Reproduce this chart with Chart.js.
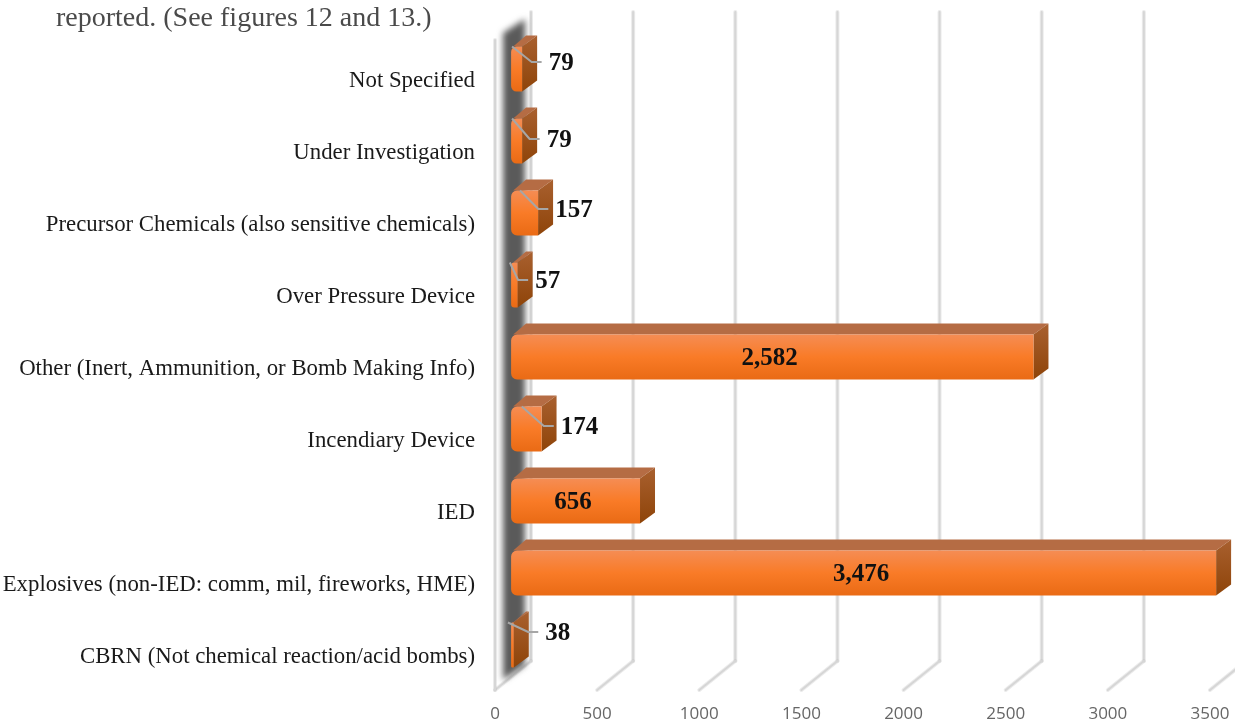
<!DOCTYPE html>
<html>
<head>
<meta charset="utf-8">
<title>Device categories</title>
<script src="https://cdn.jsdelivr.net/npm/chart.js@4/dist/chart.umd.min.js"></script>
<style>
  html, body { margin: 0; padding: 0; background: #fff; }
  canvas { display: block; }
</style>
</head>
<body>
<canvas id="chart" width="1235" height="725"></canvas>
<script>
const captionText = 'reported. (See figures 12 and 13.)'

const categories = [
  'Not Specified',
  'Under Investigation',
  'Precursor Chemicals (also sensitive chemicals)',
  'Over Pressure Device',
  'Other (Inert, Ammunition, or Bomb Making Info)',
  'Incendiary Device',
  'IED',
  'Explosives (non-IED: comm, mil, fireworks, HME)',
  'CBRN (Not chemical reaction/acid bombs)',
]
const incidents = [79, 79, 157, 57, 2582, 174, 656, 3476, 38]

const axisMax = 3500
const axisStep = 500

// fake 3D, all in pixels relative to the real scales
const barDepth = { x: 15, y: -11 }
const wallFront = -11
const wallBack = 25
const barBase = 25

// where the small labels sit, relative to bar end and bar middle
const calloutShift = {
  0: [39, -7],
  1: [37, -2],
  2: [36, -4],
  3: [30, -5],
  5: [38, -3],
  8: [44, -13],
}

const serif = '"Liberation Serif", serif'

const barGradient = (context) => {
  const { chart, dataIndex } = context
  const yScale = chart.scales.y
  const mid = yScale ? yScale.getPixelForValue(dataIndex) : NaN
  if (!Number.isFinite(mid)) return '#F97B27'
  const g = chart.ctx.createLinearGradient(0, mid - 23, 0, mid + 23)
  g.addColorStop(0, '#F58D55')
  g.addColorStop(0.5, '#F97B27')
  g.addColorStop(1, '#E96A14')
  return g
}

const polygon = (ctx, pts) => {
  ctx.beginPath()
  pts.forEach(([x, y], i) => (i ? ctx.lineTo(x, y) : ctx.moveTo(x, y)))
  ctx.closePath()
}

const softLine = (ctx, x1, y1, x2, y2) => {
  ctx.lineCap = 'round'
  ctx.strokeStyle = 'rgba(190, 190, 190, 0.3)'
  ctx.lineWidth = 4
  ctx.beginPath()
  ctx.moveTo(x1, y1)
  ctx.lineTo(x2, y2)
  ctx.stroke()
  ctx.strokeStyle = '#d6d6d6'
  ctx.lineWidth = 2
  ctx.stroke()
}

const walls = {
  id: 'walls',
  beforeDatasetsDraw(chart) {
    const { ctx, chartArea, scales } = chart
    const { top, bottom } = chartArea
    const zero = scales.x.getPixelForValue(0)

    ctx.save()
    ctx.font = `28px ${serif}`
    ctx.fillStyle = '#4a4a4a'
    ctx.textAlign = 'left'
    ctx.textBaseline = 'middle'
    ctx.fillText(captionText, 56, 19)

    // back wall and floor lines
    scales.x.ticks.forEach((tick) => {
      const x = scales.x.getPixelForValue(tick.value)
      softLine(ctx, x + wallBack, top - 21, x + wallBack, bottom - 20)
      softLine(ctx, x + wallBack, bottom - 20, x + wallFront, bottom + 9)
    })
    softLine(ctx, zero + wallFront, top + 7, zero + wallFront, bottom + 9)

    // dark band behind the bars
    ctx.filter = 'blur(3px)'
    ctx.fillStyle = '#5a5a5a'
    polygon(ctx, [
      [zero - 3, top],
      [zero + 19, top - 14],
      [zero + 19, bottom - 16],
      [zero - 3, bottom - 1],
    ])
    ctx.fill()
    ctx.filter = 'none'

    // top and right faces
    const bars = chart.getDatasetMeta(0).data
    bars.forEach((bar) => {
      const h = bar.height / 2
      const left = bar.base
      const right = bar.x
      const dx = barDepth.x
      const dy = barDepth.y

      ctx.fillStyle = '#B56C44'
      polygon(ctx, [
        [left + 2, bar.y - h],
        [left + dx, bar.y - h + dy],
        [right + dx, bar.y - h + dy],
        [right, bar.y - h],
      ])
      ctx.fill()

      const side = ctx.createLinearGradient(0, bar.y - h + dy, 0, bar.y + h)
      side.addColorStop(0, '#A9602F')
      side.addColorStop(1, '#8E4409')
      ctx.fillStyle = side
      polygon(ctx, [
        [right, bar.y - h],
        [right + dx, bar.y - h + dy],
        [right + dx, bar.y + h + dy],
        [right, bar.y + h],
      ])
      ctx.fill()
    })
    ctx.restore()
  },
  afterDatasetsDraw(chart) {
    const { ctx, scales } = chart
    const zero = scales.x.getPixelForValue(0)
    const bars = chart.getDatasetMeta(0).data

    ctx.save()
    ctx.font = `bold 25px ${serif}`
    ctx.fillStyle = '#111'
    ctx.textBaseline = 'middle'
    ctx.textAlign = 'center'

    incidents.forEach((value, i) => {
      const bar = bars[i]
      const text = value.toLocaleString('en-US')
      const shift = calloutShift[i]
      if (!shift) {
        ctx.fillText(text, (zero + bar.x) / 2, bar.y + 2)
        return
      }
      const labelX = bar.x + shift[0]
      const labelY = bar.y + shift[1]
      const end = labelX - ctx.measureText(text).width / 2 - 7
      ctx.strokeStyle = '#a6a6a6'
      ctx.lineWidth = 2
      ctx.lineJoin = 'round'
      ctx.beginPath()
      ctx.moveTo((zero + bar.x) / 2 - 2, bar.y - bar.height / 2)
      ctx.lineTo(end - 10, labelY)
      ctx.lineTo(end, labelY)
      ctx.stroke()
      ctx.fillText(text, labelX, labelY + 2)
    })
    ctx.restore()
  },
}

new Chart(document.getElementById('chart'), {
  type: 'bar',
  data: {
    labels: categories,
    datasets: [
      {
        data: incidents,
        base: barBase,
        backgroundColor: barGradient,
        borderWidth: 0,
        borderSkipped: false,
        borderRadius: { topLeft: 6, bottomLeft: 6, topRight: 0, bottomRight: 0 },
        categoryPercentage: 1,
        barPercentage: 0.625,
      },
    ],
  },
  options: {
    indexAxis: 'y',
    responsive: false,
    animation: false,
    layout: { autoPadding: false, padding: { top: 33, right: 14, left: 0, bottom: 0 } },
    plugins: { legend: { display: false }, tooltip: { enabled: false } },
    scales: {
      x: {
        min: 0,
        max: axisMax,
        grid: { display: false, drawTicks: false },
        border: { display: false },
        afterFit: (scale) => {
          scale.height = 44
          scale.paddingLeft = 0
          scale.paddingRight = 0
        },
        ticks: {
          stepSize: axisStep,
          maxRotation: 0,
          padding: 23,
          labelOffset: wallFront,
          color: '#666666',
          font: { family: '"Open Sans"', size: 17 },
          callback: (value) => String(value),
        },
      },
      y: {
        grid: { display: false, drawTicks: false },
        border: { display: false },
        afterFit: (scale) => {
          scale.width = 506
          scale.paddingTop = 0
          scale.paddingBottom = 0
        },
        ticks: {
          autoSkip: false,
          padding: 31,
          labelOffset: 12,
          color: '#1a1a1a',
          font: { family: serif, size: 22.8 },
        },
      },
    },
  },
  plugins: [walls],
})
</script>
</body>
</html>
